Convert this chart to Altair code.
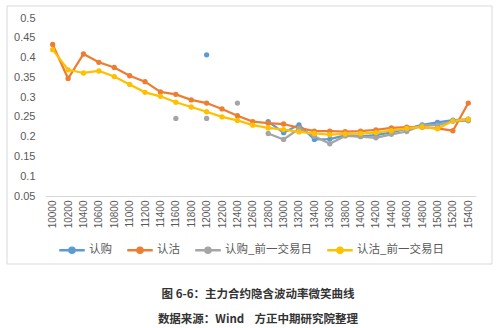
import altair as alt
import pandas as pd

strikes = ["10000", "10200", "10400", "10600", "10800", "11000", "11200", "11400",
           "11600", "11800", "12000", "12200", "12400", "12600", "12800", "13000",
           "13200", "13400", "13600", "13800", "14000", "14200", "14400", "14600",
           "14800", "15000", "15200", "15400"]

series_names = ["认购", "认沽", "认购_前一交易日", "认沽_前一交易日"]
series_colors = ["#5B9BD5", "#ED7D31", "#A5A5A5", "#FFC000"]

call = [None, None, None, None, None, None, None, None, None, None,
        0.407, None, None, None, 0.238, 0.210, 0.230, 0.193, 0.194, 0.203,
        0.201, 0.204, 0.211, 0.220, 0.230, 0.236, 0.242, 0.244]
put = [0.433, 0.347, 0.409, 0.388, 0.375, 0.354, 0.339, 0.313, 0.307, 0.293,
       0.285, 0.270, 0.253, 0.238, 0.234, 0.232, 0.222, 0.214, 0.214, 0.213,
       0.214, 0.217, 0.222, 0.224, 0.224, 0.221, 0.215, 0.285]
call_prev = [None, None, None, None, None, None, None, None, 0.246, None,
             0.246, None, 0.285, None, 0.208, 0.193, 0.220, 0.201, 0.182, 0.202,
             0.200, 0.197, 0.206, 0.213, 0.229, 0.229, 0.239, 0.240]
put_prev = [0.420, 0.369, 0.361, 0.366, 0.352, 0.332, 0.312, 0.302, 0.287, 0.275,
            0.263, 0.250, 0.241, 0.229, 0.222, 0.218, 0.212, 0.208, 0.205, 0.207,
            0.208, 0.210, 0.215, 0.221, 0.225, 0.220, 0.240, 0.244]

title_text = "图 6-6：主力合约隐含波动率微笑曲线"
source_text = "数据来源：Wind\u00a0\u00a0\u00a0\u00a0方正中期研究院整理"

rows = []
for name, vals in zip(series_names, [call, put, call_prev, put_prev]):
    for k, v in zip(strikes, vals):
        rows.append({"strike": k, "series": name, "iv": v})
df = pd.DataFrame(rows)

W, H = 431, 178

x_enc = alt.X("strike:N", sort=strikes,
              scale=alt.Scale(paddingInner=0, paddingOuter=0),
              axis=alt.Axis(title=None, labelAngle=270, labelFontSize=10,
                            labelColor="#595959", labelPadding=4, ticks=False,
                            domainColor="#D9D9D9", domainWidth=1,
                            labelFont="Liberation Sans"))
y_enc = alt.Y("iv:Q", scale=alt.Scale(domain=[0.05, 0.5], nice=False, zero=False),
              axis=alt.Axis(title=None, values=[0.05, 0.1, 0.15, 0.2, 0.25, 0.3, 0.35, 0.4, 0.45, 0.5],
                            format=".2~f", grid=False, domain=False, ticks=False,
                            labelFontSize=11, labelColor="#595959", labelPadding=10,
                            labelFont="Liberation Sans"))
color_scale = alt.Scale(domain=series_names, range=series_colors)

legend = alt.Legend(title=None, orient="none", direction="horizontal",
                    legendX=13, legendY=218,
                    symbolType="M-1,0L1,0M-0.2,0A0.2,0.2,0,1,1,0.2,0A0.2,0.2,0,1,1,-0.2,0Z",
                    symbolSize=650, symbolStrokeWidth=2.5,
                    labelFontSize=11.5, labelColor="#595959", labelOffset=3,
                    columnPadding=10, labelFont="Noto Sans CJK SC")

lines = alt.Chart(df).mark_line(strokeWidth=2.25).encode(
    x=x_enc, y=y_enc,
    color=alt.Color("series:N", scale=color_scale, sort=series_names, legend=legend),
    detail="series:N",
)
points = alt.Chart(df).mark_point(filled=True, size=28, opacity=1).encode(
    x=x_enc, y=y_enc,
    color=alt.Color("series:N", scale=color_scale, sort=series_names, legend=legend),
)

frame = alt.Chart(pd.DataFrame({"a": [0]})).mark_rect(
    filled=False, stroke="#D9D9D9", strokeWidth=1
).encode(x=alt.value(-38), x2=alt.value(447), y=alt.value(-12), y2=alt.value(246))

cap1 = alt.Chart(pd.DataFrame({"t": [title_text]})).mark_text(
    font="Noto Sans CJK SC", fontSize=11.5, fontWeight="bold", color="#333333",
    align="center", baseline="middle"
).encode(text="t:N", x=alt.value(213), y=alt.value(277))
cap2 = alt.Chart(pd.DataFrame({"t": [source_text]})).mark_text(
    font="Noto Sans CJK SC", fontSize=11.5, fontWeight="bold", color="#333333",
    align="center", baseline="middle"
).encode(text="t:N", x=alt.value(213), y=alt.value(302))

chart = alt.layer(frame, lines, points, cap1, cap2).properties(
    width=W, height=H,
    autosize=alt.AutoSizeParams(type="none"),
    padding={"left": 45, "top": 18, "right": 24, "bottom": 132},
    background="white",
).configure_view(stroke=None)

chart.save("out.html", embed_options={"renderer": "svg", "actions": False})
